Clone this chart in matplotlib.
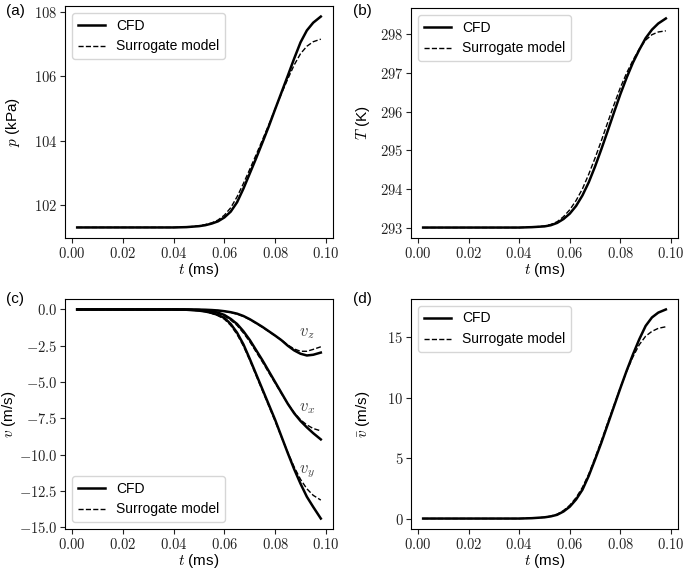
import matplotlib
matplotlib.use('Agg')
import matplotlib.pyplot as plt
from matplotlib.ticker import FuncFormatter, FixedLocator

plt.rcParams['mathtext.fontset'] = 'cm'
plt.rcParams['font.family'] = ['Liberation Sans', 'DejaVu Sans']

# time (ms)
t = [0.002, 0.01, 0.02, 0.03, 0.04, 0.045, 0.05, 0.0525, 0.055, 0.0575, 0.06,
     0.0625, 0.065, 0.0675, 0.07, 0.0725, 0.075, 0.0775, 0.08, 0.0825, 0.085,
     0.0875, 0.09, 0.0925, 0.095, 0.098]

# pressure (kPa)
p_cfd = [101.32, 101.32, 101.32, 101.32, 101.32, 101.33, 101.36, 101.39, 101.44, 101.51, 101.63,
         101.81, 102.10, 102.52, 102.99, 103.46, 103.95, 104.45, 104.98, 105.50, 106.02,
         106.55, 107.05, 107.42, 107.66, 107.85]
p_sur = [101.32, 101.32, 101.32, 101.32, 101.32, 101.33, 101.37, 101.41, 101.46, 101.55, 101.70,
         101.93, 102.27, 102.68, 103.12, 103.57, 104.03, 104.50, 104.99, 105.47, 105.92,
         106.35, 106.70, 106.93, 107.07, 107.15]

# temperature (K)
T_cfd = [293.0, 293.0, 293.0, 293.0, 293.0, 293.01, 293.03, 293.06, 293.12, 293.22, 293.36,
         293.56, 293.83, 294.17, 294.58, 295.03, 295.50, 295.98, 296.45, 296.88, 297.27,
         297.60, 297.90, 298.12, 298.28, 298.41]
T_sur = [293.0, 293.0, 293.0, 293.0, 293.0, 293.01, 293.04, 293.08, 293.15, 293.28, 293.46,
         293.70, 294.00, 294.38, 294.80, 295.25, 295.72, 296.18, 296.62, 297.00, 297.33,
         297.62, 297.85, 297.99, 298.06, 298.09]

# velocity components (m/s)
vx_cfd = [0.0, 0.0, 0.0, 0.0, 0.0, -0.01, -0.04, -0.08, -0.13, -0.22, -0.38,
          -0.65, -1.0, -1.5, -2.1, -2.8, -3.5, -4.25, -5.0, -5.75, -6.5,
          -7.15, -7.68, -8.12, -8.52, -8.95]
vx_sur = [0.0, 0.0, 0.0, 0.0, 0.0, -0.01, -0.05, -0.1, -0.16, -0.26, -0.44,
          -0.73, -1.1, -1.62, -2.22, -2.92, -3.62, -4.35, -5.08, -5.8, -6.5,
          -7.1, -7.6, -7.95, -8.2, -8.36]
vy_cfd = [0.0, 0.0, 0.0, 0.0, 0.0, -0.02, -0.08, -0.14, -0.24, -0.38, -0.58,
          -1.0, -1.6, -2.4, -3.4, -4.45, -5.5, -6.55, -7.6, -8.75, -9.9,
          -11.0, -12.0, -12.9, -13.6, -14.4]
vy_sur = [0.0, 0.0, 0.0, 0.0, 0.0, -0.02, -0.09, -0.16, -0.27, -0.43, -0.67,
          -1.1, -1.72, -2.52, -3.5, -4.55, -5.6, -6.65, -7.7, -8.8, -9.85,
          -10.85, -11.7, -12.35, -12.8, -13.13]
vz_cfd = [0.0, 0.0, 0.0, 0.0, 0.0, 0.0, -0.01, -0.02, -0.04, -0.07, -0.12,
          -0.19, -0.29, -0.45, -0.67, -0.93, -1.2, -1.5, -1.8, -2.12, -2.5,
          -2.82, -3.05, -3.17, -3.12, -2.97]
vz_sur = [0.0, 0.0, 0.0, 0.0, 0.0, 0.0, -0.01, -0.02, -0.04, -0.08, -0.13,
          -0.21, -0.32, -0.48, -0.7, -0.96, -1.23, -1.52, -1.82, -2.1, -2.45,
          -2.72, -2.88, -2.88, -2.75, -2.57]

# velocity magnitude (m/s)
vm_cfd = [0.02, 0.02, 0.02, 0.02, 0.02, 0.05, 0.12, 0.2, 0.33, 0.6, 1.0,
          1.6, 2.4, 3.55, 4.9, 6.3, 7.8, 9.3, 10.8, 12.25, 13.6,
          14.85, 15.95, 16.65, 17.05, 17.31]
vm_sur = [0.02, 0.02, 0.02, 0.02, 0.02, 0.05, 0.13, 0.22, 0.38, 0.68, 1.12,
          1.75, 2.6, 3.7, 5.05, 6.45, 7.95, 9.4, 10.85, 12.2, 13.4,
          14.4, 15.1, 15.5, 15.75, 15.88]

xticks = [0.0, 0.02, 0.04, 0.06, 0.08, 0.10]

fig = plt.figure(figsize=(6.85, 5.7), dpi=100)
W, H = 685.0, 570.0


def make_ax(l, r, top, bot):
    return fig.add_axes([l / W, 1 - bot / H, (r - l) / W, (bot - top) / H])


ax_a = make_ax(65, 333, 6, 238)
ax_b = make_ax(411, 678, 8, 238)
ax_c = make_ax(65, 333, 299, 529)
ax_d = make_ax(411, 678, 299, 529)


def style(ax, yticks, yfmt, ylabel, ylab_x):
    ax.xaxis.set_major_locator(FixedLocator(xticks))
    ax.xaxis.set_major_formatter(FuncFormatter(lambda v, _: '$%.2f$' % v))
    ax.yaxis.set_major_locator(FixedLocator(yticks))
    ax.yaxis.set_major_formatter(FuncFormatter(lambda v, _: ('$' + yfmt + '$') % v))
    ax.tick_params(labelsize=10.5, colors='#222222', pad=2)
    ax.set_xlabel(r'$t$ (ms)', fontsize=11, labelpad=0)
    ax.set_ylabel(ylabel, fontsize=11)
    ax.yaxis.set_label_coords(ylab_x, 0.5)


CFD_LW = 1.8

ax_a.plot(t, p_cfd, 'k-', lw=CFD_LW, label='CFD')
ax_a.plot(t, p_sur, 'k--', lw=1, label='Surrogate model')
style(ax_a, [102, 104, 106, 108], '%.0f', r'$p$ (kPa)', -0.160)
ax_a.legend(loc='upper left', fontsize=10)

ax_b.plot(t, T_cfd, 'k-', lw=CFD_LW, label='CFD')
ax_b.plot(t, T_sur, 'k--', lw=1, label='Surrogate model')
style(ax_b, [293, 294, 295, 296, 297, 298], '%.0f', r'$T$ (K)', -0.145)
ax_b.legend(loc='upper left', fontsize=10)

ax_c.plot(t, vx_cfd, 'k-', lw=CFD_LW, label='CFD')
ax_c.plot(t, vx_sur, 'k--', lw=1, label='Surrogate model')
ax_c.plot(t, vy_cfd, 'k-', lw=CFD_LW)
ax_c.plot(t, vy_sur, 'k--', lw=1)
ax_c.plot(t, vz_cfd, 'k-', lw=CFD_LW)
ax_c.plot(t, vz_sur, 'k--', lw=1)
style(ax_c, [0, -2.5, -5, -7.5, -10, -12.5, -15], '%.1f', r'$v$ (m/s)', -0.175)
ax_c.text(0.0925, -1.65, r'$v_z$', fontsize=12, color='#444444', ha='center', va='center')
ax_c.text(0.0925, -6.82, r'$v_x$', fontsize=12, color='#444444', ha='center', va='center')
ax_c.text(0.0925, -11.18, r'$v_y$', fontsize=12, color='#444444', ha='center', va='center')
ax_c.legend(loc='lower left', fontsize=10)

ax_d.plot(t, vm_cfd, 'k-', lw=CFD_LW, label='CFD')
ax_d.plot(t, vm_sur, 'k--', lw=1, label='Surrogate model')
style(ax_d, [0, 5, 10, 15], '%.0f', r'$\bar{v}$ (m/s)', -0.145)
ax_d.legend(loc='upper left', fontsize=10)

for lab, x, y in [('(a)', 15, 11), ('(b)', 362, 11), ('(c)', 15, 299), ('(d)', 362, 299)]:
    fig.text(x / W, 1 - y / H, lab, fontsize=11, ha='center', va='center')

fig.savefig('out.png', dpi=100)
